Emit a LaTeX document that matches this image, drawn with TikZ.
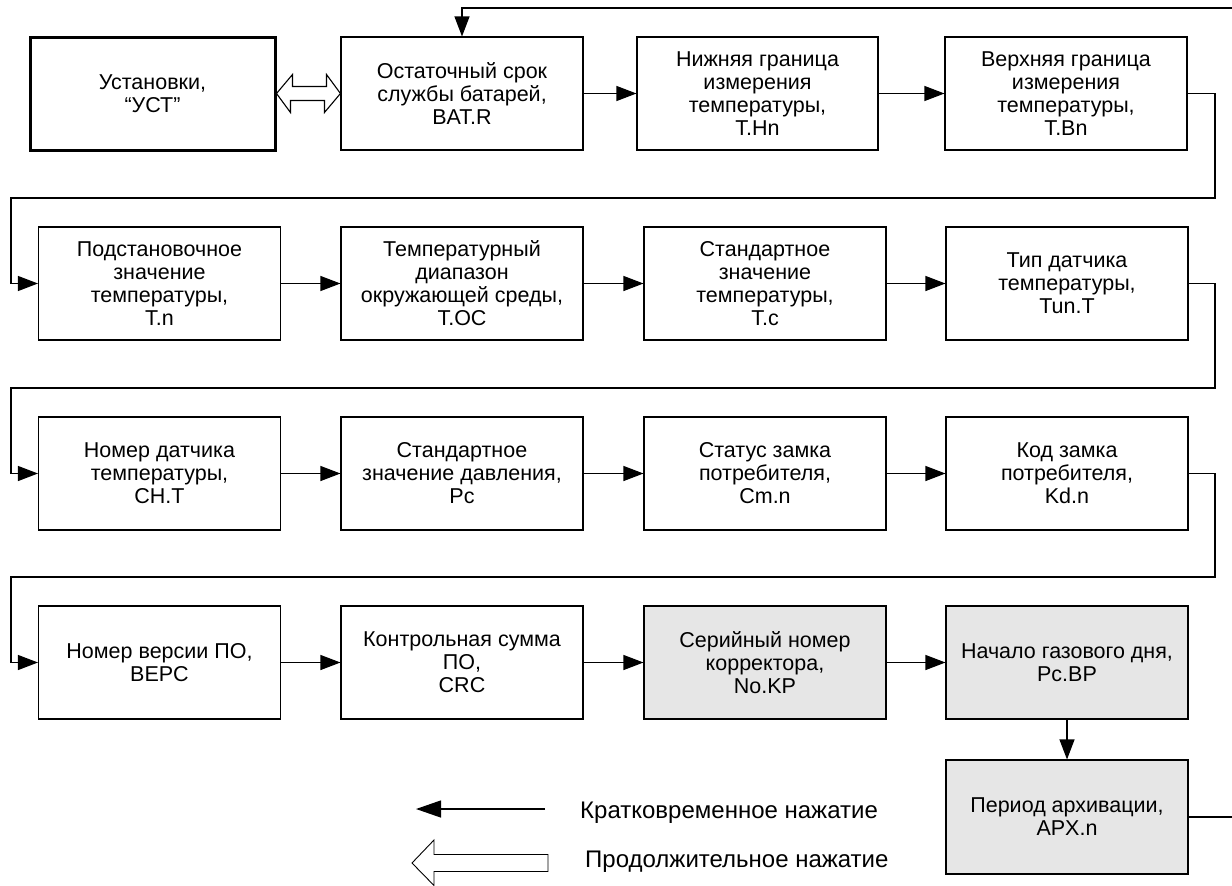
\documentclass[tikz,border=0pt]{standalone}
\usepackage{fontspec}
\setmainfont{Liberation Sans}
\usetikzlibrary{arrows.meta,calc}
\definecolor{boxgray}{RGB}{230,230,230}
\begin{document}
\begin{tikzpicture}[x=1pt,y=-1pt,
  box/.style={draw=black,line width=1.1pt,minimum width=242pt,minimum height=113pt,inner sep=2pt,align=center,font=\fontsize{21.5}{23}\selectfont},
  gbox/.style={box,fill=boxgray},
  mainbox/.style={box,line width=3pt,minimum width=245pt},
  arr/.style={line width=1.1pt,-{Triangle[length=20pt,width=15pt]}},
  ln/.style={line width=1.1pt},
  legtext/.style={anchor=west,inner sep=0pt,font=\fontsize{24}{27}\selectfont}]
\useasboundingbox (0,0) rectangle (1232,886);
% row 1
\node[mainbox] (b0) at (152.5,93.5) {Установки,\\“УСТ”};
\node[box] (b1) at (462,93.5) {Остаточный срок\\службы батарей,\\BAT.R};
\node[box,minimum width=241pt] (b2) at (757.5,93.5) {Нижняя граница\\измерения\\температуры,\\T.Hn};
\node[box] (b3) at (1066,93.5) {Верхняя граница\\измерения\\температуры,\\T.Bn};
% row 2
\node[box] (b4) at (159.5,283.5) {Подстановочное\\значение\\температуры,\\T.n};
\node[box] (b5) at (462,283.5) {Температурный\\диапазон\\окружающей среды,\\T.OC};
\node[box] (b6) at (765,283.5) {Стандартное\\значение\\температуры,\\T.c};
\node[box] (b7) at (1067,283.5) {Тип датчика\\температуры,\\Tun.T};
% row 3
\node[box] (b8) at (159.5,473.5) {Номер датчика\\температуры,\\CH.T};
\node[box] (b9) at (462,473.5) {Стандартное\\значение давления,\\Pc};
\node[box] (b10) at (765,473.5) {Статус замка\\потребителя,\\Cm.n};
\node[box] (b11) at (1067,473.5) {Код замка\\потребителя,\\Kd.n};
% row 4
\node[box] (b12) at (159.5,662.5) {Номер версии ПО,\\BEPC};
\node[box] (b13) at (462,662.5) {Контрольная сумма\\ПО,\\CRC};
\node[gbox] (b14) at (765,662.5) {Серийный номер\\корректора,\\No.KP};
\node[gbox] (b15) at (1067,662.5) {Начало газового дня,\\Pc.BP};
\node[gbox,minimum height=114pt] (b16) at (1067,817) {Период архивации,\\APX.n};
% rails
\coordinate (rr) at (1215,0);
\coordinate (rl) at (11,0);
\coordinate (g1) at (0,198);
\coordinate (g2) at (0,388);
\coordinate (g3) at (0,577);
\coordinate (topR) at (1232,8);
\coordinate (apxR) at (1232,817);
% connectors
\draw[arr] (topR) -| (b1.north);
\draw[ln,fill=white] (b0.east) -- ++(16,-19) -- ++(0,12) -- ++(34,0) -- ++(0,-12)
  -- (b1.west) -- ++(-16,19) -- ++(0,-12) -- ++(-34,0) -- ++(0,12) -- cycle;
\draw[arr] (b1) -- (b2);
\draw[arr] (b2) -- (b3);
\draw[arr] (b3.east) -| (rr |- g1) -| (b4.west -| rl) -- (b4.west);
\draw[arr] (b4) -- (b5);
\draw[arr] (b5) -- (b6);
\draw[arr] (b6) -- (b7);
\draw[arr] (b7.east) -| (rr |- g2) -| (b8.west -| rl) -- (b8.west);
\draw[arr] (b8) -- (b9);
\draw[arr] (b9) -- (b10);
\draw[arr] (b10) -- (b11);
\draw[arr] (b11.east) -| (rr |- g3) -| (b12.west -| rl) -- (b12.west);
\draw[arr] (b12) -- (b13);
\draw[arr] (b13) -- (b14);
\draw[arr] (b14) -- (b15);
\draw[arr] (b15) -- (b16);
\draw[ln] (b16.east) -- (apxR);
% legend
\coordinate (l1s) at (545,809);
\coordinate (l1e) at (416,809);
\draw[line width=1.3pt,-{Triangle[length=25pt,width=17pt]}] (l1s) -- (l1e);
\node[legtext] (t1) at (580,813) {Кратковременное нажатие};
\draw[line width=0.9pt] (412,863) -- (434,840) -- (434,854.5) -- (548,854.5) -- (548,871.5)
  -- (434,871.5) -- (434,885.5) -- cycle;
\node[legtext] (t2) at (585,862) {Продолжительное нажатие};
\end{tikzpicture}
\end{document}
